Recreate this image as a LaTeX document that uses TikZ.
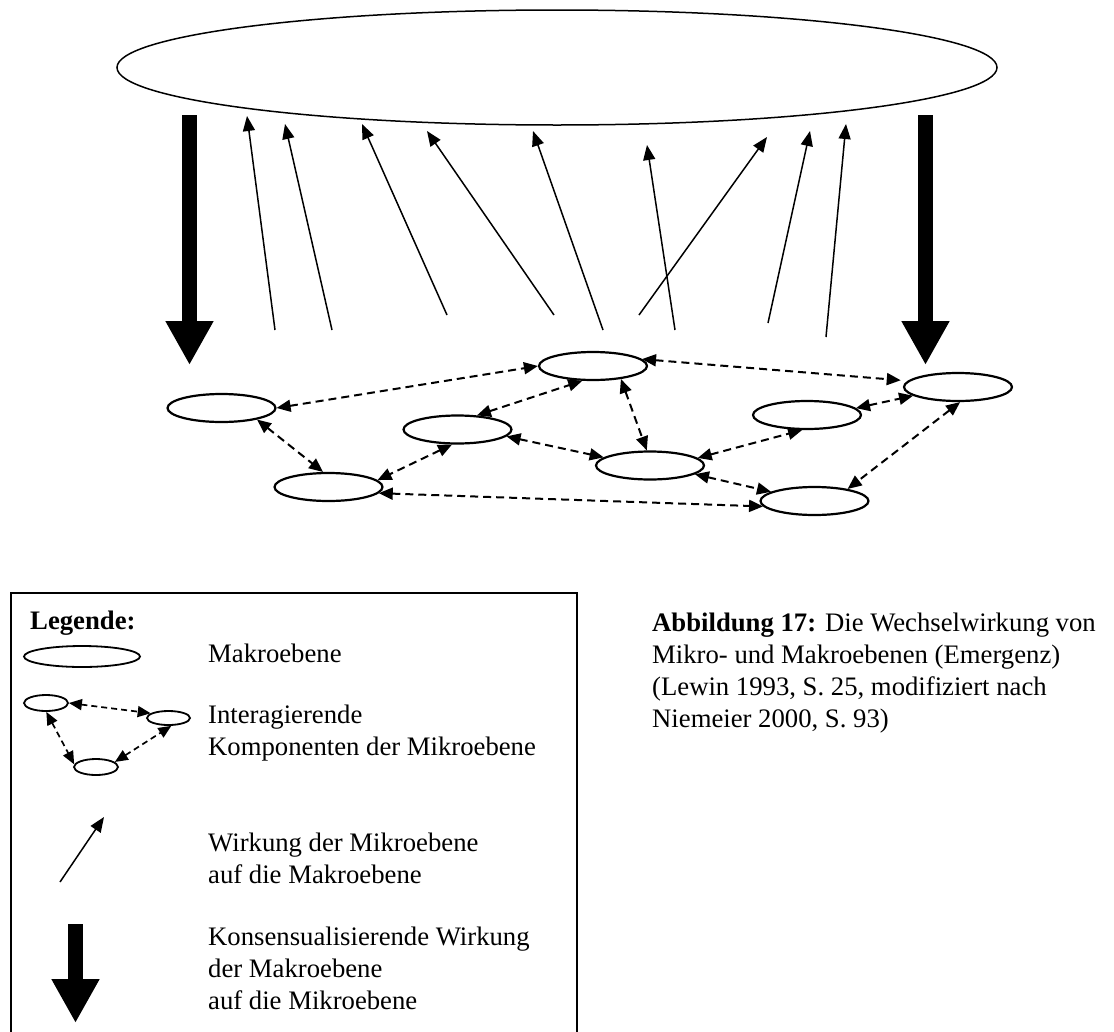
\documentclass[tikz,border=0pt]{standalone}
\usepackage{fontspec}
\setmainfont{Liberation Serif}
\usetikzlibrary{arrows.meta,shapes.geometric}
\tikzset{
  macro/.style={ellipse, draw, line width=1.5pt, inner sep=0pt, minimum width=880pt, minimum height=115pt},
  micro/.style={ellipse, draw, line width=2.2pt, inner sep=0pt, minimum width=108pt, minimum height=28pt},
  minimicro/.style={ellipse, draw, line width=1.8pt, inner sep=0pt},
  link/.style={line width=2pt, dash pattern=on 8pt off 5pt,
    {Triangle[length=14pt,width=12pt]}-{Triangle[length=14pt,width=12pt]}},
  minilink/.style={line width=1.7pt, dash pattern=on 6pt off 4pt,
    {Triangle[length=13pt,width=11pt]}-{Triangle[length=13pt,width=11pt]}},
  effect/.style={line width=1.5pt, -{Triangle[length=15pt,width=12pt]}},
  consens/.style={line width=15pt, -{Triangle[length=44pt,width=45pt]}},
  txt/.style={font=\fontsize{26.7}{31.7}\selectfont, inner sep=0pt, anchor=base west, align=left},
  frame/.style={line width=1.8pt},
}
\begin{document}
\begin{tikzpicture}[x=1pt, y=-1pt]
\useasboundingbox (0,0) rectangle (1114,1031);

% Makroebene
\node[macro] (M) at (557,67.5) {};

% Mikroebene
\node[micro] (E1) at (221.5,408) {};
\node[micro] (E2) at (328.5,487) {};
\node[micro] (E3) at (457.5,429.5) {};
\node[micro] (E4) at (593,366) {};
\node[micro] (E5) at (650,465.5) {};
\node[micro] (E6) at (807,415) {};
\node[micro] (E7) at (958,387) {};
\node[micro] (E8) at (814.5,501) {};

\draw[link] (E1.east) -- (E4.west);
\draw[link] (E3.36) -- (E4.234);
\draw[link] (E1.-18) -- (E2.110);
\draw[link] (E3.250) -- (E2.8);
\draw[link] (E2.-7) -- (E8.186);
\draw[link] (E3.-8) -- (E5.170);
\draw[link] (E4.-25) -- (E5.102);
\draw[link, shorten >=7pt] (E4.8) -- (E7.173);
\draw[link] (E5.9) -- (E6.252);
\draw[link] (E6.8) -- (E7.191);
\draw[link] (E7.-82) -- (E8.20);
\draw[link] (E5.-11) -- (E8.168);

% Wirkung der Mikroebene auf die Makroebene
\coordinate (a1) at (275,330); \coordinate (b1) at (247,116);
\coordinate (a2) at (332,330); \coordinate (b2) at (285,124);
\coordinate (a3) at (447,315); \coordinate (b3) at (362,124);
\coordinate (a4) at (554,315); \coordinate (b4) at (427,131);
\coordinate (a5) at (603,330); \coordinate (b5) at (533,131);
\coordinate (a6) at (675,330); \coordinate (b6) at (647,145);
\coordinate (a7) at (639,315); \coordinate (b7) at (767,137);
\coordinate (a8) at (768,323); \coordinate (b8) at (810,131);
\coordinate (a9) at (826,337); \coordinate (b9) at (846,124);
\foreach \i in {1,...,9} { \draw[effect] (a\i) -- (b\i); }

% Konsensualisierende Wirkung
\coordinate (cL0) at (189.5,115); \coordinate (cL1) at (189.5,365);
\coordinate (cR0) at (925.5,115); \coordinate (cR1) at (925.5,365);
\draw[consens] (cL0) -- (cL1);
\draw[consens] (cR0) -- (cR1);

% Legende
\draw[frame] (11,1032) -- (11,593) -- (577,593) -- (577,1032);
\node[txt, font=\fontsize{26.7}{31.7}\selectfont\bfseries] (lt) at (30,629) {Legende:};

\node[minimicro, minimum width=116pt, minimum height=21pt] (lm) at (82,656.5) {};
\node[txt] (t1) at (208,662) {Makroebene};

\node[minimicro, minimum width=44pt, minimum height=16pt] (ea) at (46,703) {};
\node[minimicro, minimum width=43pt, minimum height=14pt] (eb) at (168.5,718) {};
\node[minimicro, minimum width=44pt, minimum height=16pt] (ec) at (96,767) {};
\draw[minilink] (ea.0) -- (eb.165);
\draw[minilink] (ea.-88) -- (ec.173);
\draw[minilink] (ec.15) -- (eb.-70);
\node[txt] (t2) at (208,755) {Interagierende\\Komponenten der Mikroebene};

\coordinate (le0) at (60,882); \coordinate (le1) at (104,817);
\draw[effect] (le0) -- (le1);
\node[txt] (t3) at (208,883) {Wirkung der Mikroebene\\auf die Makroebene};

\coordinate (lc0) at (75.5,924); \coordinate (lc1) at (75.5,1023);
\draw[consens] (lc0) -- (lc1);
\node[txt] (t4) at (208,1009) {Konsensualisierende Wirkung\\der Makroebene\\auf die Mikroebene};

% Bildunterschrift
\node[txt] (cap) at (652,727) {\textbf{Abbildung 17:} Die Wechselwirkung von\\Mikro- und Makroebenen (Emergenz)\\(Lewin 1993, S. 25, modifiziert nach\\Niemeier 2000, S. 93)};
\end{tikzpicture}
\end{document}
